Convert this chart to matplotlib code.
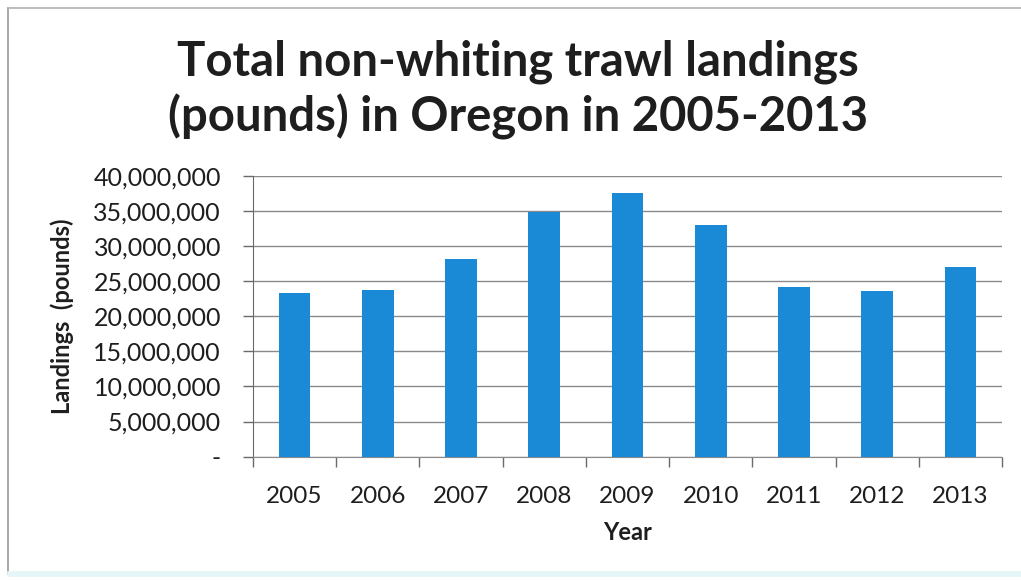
import matplotlib.pyplot as plt
from matplotlib.ticker import FuncFormatter, FixedLocator
from matplotlib.lines import Line2D

years = ["2005", "2006", "2007", "2008", "2009", "2010", "2011", "2012", "2013"]
landings = [23.3e6, 23.8e6, 28.1e6, 34.9e6, 37.5e6, 33.0e6, 24.2e6, 23.6e6, 27.0e6]
y_ticks = [0, 5e6, 10e6, 15e6, 20e6, 25e6, 30e6, 35e6, 40e6]

plt.rcParams['font.family'] = ['Lato', 'DejaVu Sans']
txt = '#1e1e1e'

fig = plt.figure(figsize=(10.21, 5.8), dpi=100)
ax = fig.add_axes([0.2478, 0.2126, 0.7336, 0.4844])

x = range(len(years))
ax.bar(x, landings, width=0.38, color='#1b8ad6', zorder=3)

ax.set_xlim(-0.5, len(years) - 0.5)
ax.set_ylim(0, 40e6)
ax.set_yticks(y_ticks)
ax.yaxis.set_major_formatter(FuncFormatter(lambda v, p: '-' if v == 0 else f'{v:,.0f}'))
ax.grid(axis='y', color='#8a8a8a', linewidth=1.0, zorder=0)

ax.set_xticks(list(x))
ax.set_xticklabels(years)
ax.xaxis.set_minor_locator(FixedLocator([i - 0.5 for i in range(len(years) + 1)]))
ax.tick_params(axis='x', which='major', length=0, pad=21, labelsize=17.5, labelcolor=txt)
ax.tick_params(axis='x', which='minor', length=7, width=1, color='#6a6a6a', direction='out')
ax.tick_params(axis='y', length=7, width=1, color='#6a6a6a', pad=16, labelsize=18, labelcolor=txt)

for s in ['top', 'right']:
    ax.spines[s].set_visible(False)
ax.spines['left'].set_color('#6a6a6a')
ax.spines['bottom'].set_color('#8a8a8a')

ax.set_xlabel('Year', fontsize=17, fontweight='bold', color=txt, labelpad=10)
fig.text(0.061, 0.455, 'Landings  (pounds)', rotation=90, fontsize=17, fontweight='bold',
         color=txt, ha='center', va='center')

fig.text(0.507, 0.845, 'Total non-whiting trawl landings\n(pounds) in Oregon in 2005-2013',
         fontsize=34, fontweight='bold', color=txt, ha='center', va='center', linespacing=1.25)

# outer frame
fig.add_artist(Line2D([8 / 1021, 8 / 1021], [0.01, 1 - 8 / 580], color='#9a9a9a', lw=1.2))
fig.add_artist(Line2D([8 / 1021, 1.0], [1 - 8 / 580, 1 - 8 / 580], color='#b0b0b0', lw=1.2))
fig.add_artist(Line2D([0.01, 1.0], [6 / 580, 6 / 580], color='#e4f6f8', lw=4))

fig.savefig('out.png', dpi=100)
